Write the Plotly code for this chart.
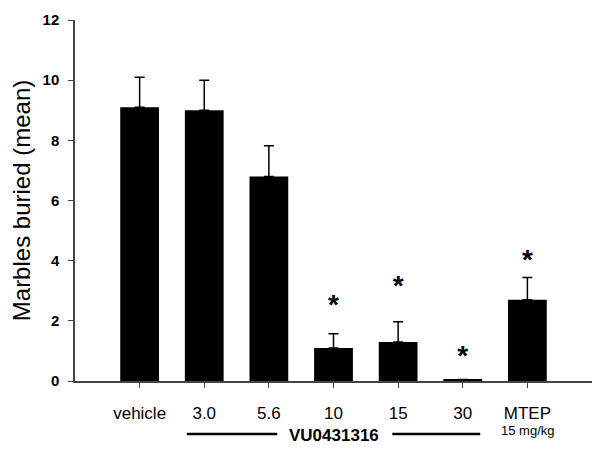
import plotly.graph_objects as go

categories = ["vehicle", "3.0", "5.6", "10", "15", "30", "MTEP"]
means = [9.1, 9.0, 6.8, 1.1, 1.3, 0.05, 2.7]
sem = [1.0, 1.0, 1.02, 0.47, 0.67, 0.0, 0.74]
star_idx = [3, 4, 5, 6]
star_y = [2.47, 3.1, 0.75, 3.97]
y_ticks = [0, 2, 4, 6, 8, 10, 12]

FONT = "Arial, Liberation Sans, sans-serif"
xs = list(range(len(categories)))

fig = go.Figure()
fig.add_trace(go.Bar(
    x=xs, y=means, width=0.6,
    marker=dict(color="black", line=dict(width=0)),
    error_y=dict(type="data", array=sem, arrayminus=[0] * len(sem), symmetric=False,
                 color="black", thickness=1.5, width=5, visible=True),
    showlegend=False,
))
fig.add_trace(go.Scatter(
    x=star_idx, y=star_y, mode="text", text=["<b>*</b>"] * len(star_idx),
    textfont=dict(family=FONT, size=28, color="black"), showlegend=False,
    textposition="middle center",
))

fig.update_layout(
    width=592, height=446,
    margin=dict(l=67, r=8, t=12, b=73, autoexpand=False),
    plot_bgcolor="white", paper_bgcolor="white",
    font=dict(family=FONT, color="black"),
    bargap=0.4,
)
fig.update_xaxes(
    range=[-1, 7], tickvals=xs, ticktext=categories,
    showline=True, linecolor="#444", linewidth=1.5,
    ticks="outside", ticklen=5, tickcolor="#444",
    tickfont=dict(size=17, family=FONT, color="black"), showgrid=False, zeroline=False,
    ticklabelstandoff=11, automargin=False,
)
fig.update_yaxes(
    range=[0, 12], tickvals=y_ticks,
    showline=True, linecolor="#444", linewidth=1.5,
    ticks="outside", ticklen=5, tickcolor="#444",
    tickfont=dict(size=15, family=FONT, color="black", weight="bold"),
    showgrid=False, zeroline=False, ticklabelstandoff=6, automargin=False,
    title=dict(text="Marbles buried (mean)", font=dict(size=24, family=FONT), standoff=18),
)

fig.add_annotation(x=3, y=-0.1496, xref="x", yref="paper", text="<b>VU0431316</b>",
                   showarrow=False, font=dict(size=17, family=FONT), yanchor="middle")
fig.add_annotation(x=6, y=-0.137, xref="x", yref="paper", text="15 mg/kg",
                   showarrow=False, font=dict(size=13, family=FONT), yanchor="middle")
for x0, x1 in [(0.73, 2.13), (3.91, 5.27)]:
    fig.add_shape(type="line", x0=x0, x1=x1, y0=-0.147, y1=-0.147, xref="x", yref="paper",
                  line=dict(color="black", width=2.5))

fig.write_html("out.html")
